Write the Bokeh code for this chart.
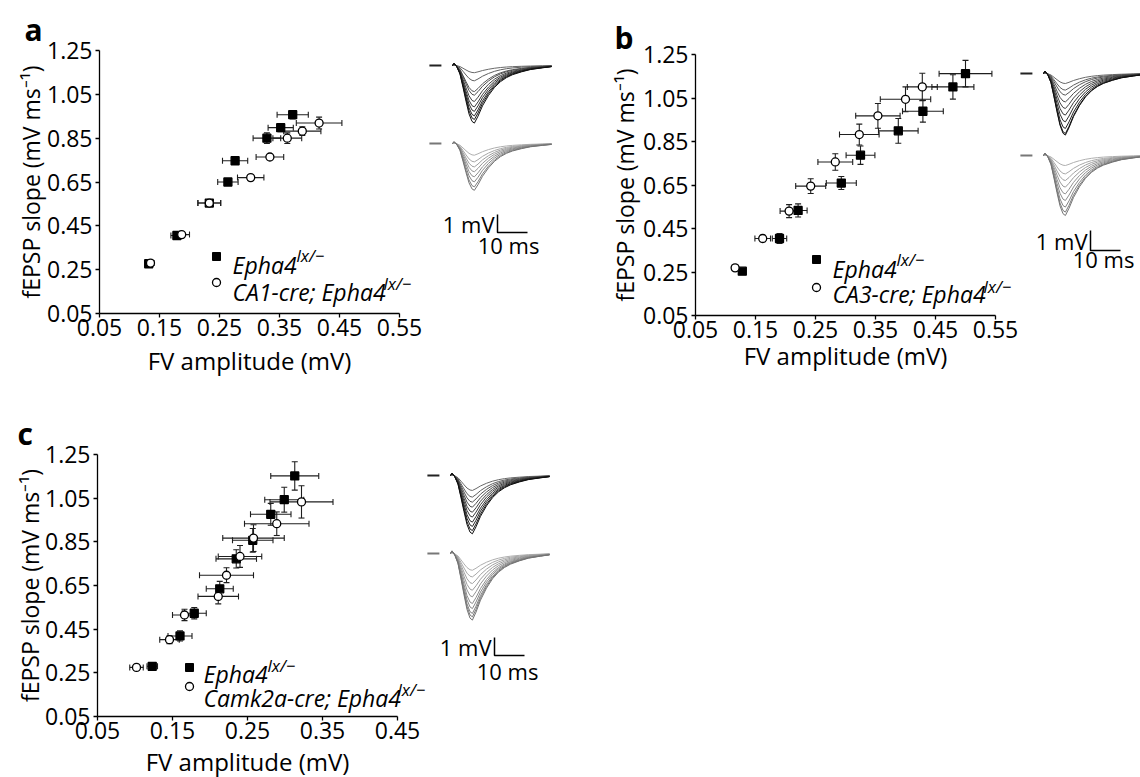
import numpy as np
from bokeh.plotting import figure
from bokeh.models import Range1d, FixedTicker, Whisker, ColumnDataSource, Label, TeeHead
from bokeh.core.properties import value
from bokeh.layouts import row, column
from bokeh.embed import file_html
from bokeh.resources import INLINE

FONT = "Open Sans"

# ---------------- data ----------------
ab_x_ticks = [0.05, 0.15, 0.25, 0.35, 0.45, 0.55]
ab_x_labels = ["0.05", "0.15", "0.25", "0.35", "0.45", "0.55"]
c_x_ticks = [0.05, 0.15, 0.25, 0.35, 0.45]
c_x_labels = ["0.05", "0.15", "0.25", "0.35", "0.45"]
y_ticks = [0.05, 0.25, 0.45, 0.65, 0.85, 1.05, 1.25]
y_labels = ["0.05", "0.25", "0.45", "0.65", "0.85", "1.05", "1.25"]

x_title = "FV amplitude (mV)"
y_title = "fEPSP slope (mV ms\u207b\u00b9)"
ctrl_name = "Epha4"
sup_name = "lx/\u2212"
a_cre_name = "CA1-cre; Epha4"
b_cre_name = "CA3-cre; Epha4"
c_cre_name = "Camk2a-cre; Epha4"

# panel a
a_ctrl_x = [0.132, 0.179, 0.233, 0.264, 0.276, 0.329, 0.352, 0.372]
a_ctrl_y = [0.277, 0.406, 0.554, 0.650, 0.747, 0.850, 0.898, 0.957]
a_ctrl_xerr = [0.006, 0.010, 0.019, 0.017, 0.021, 0.023, 0.021, 0.026]
a_ctrl_yerr = [0.010, 0.010, 0.012, 0.008, 0.014, 0.024, 0.019, 0.019]
a_cre_x = [0.135, 0.187, 0.233, 0.302, 0.334, 0.363, 0.388, 0.416]
a_cre_y = [0.280, 0.410, 0.554, 0.670, 0.764, 0.850, 0.882, 0.919]
a_cre_xerr = [0.006, 0.013, 0.019, 0.022, 0.023, 0.024, 0.031, 0.038]
a_cre_yerr = [0.010, 0.010, 0.010, 0.011, 0.011, 0.024, 0.020, 0.027]

# panel b
b_ctrl_x = [0.128, 0.190, 0.221, 0.293, 0.325, 0.388, 0.429, 0.479, 0.500]
b_ctrl_y = [0.254, 0.404, 0.533, 0.659, 0.787, 0.899, 0.989, 1.101, 1.162]
b_ctrl_xerr = [0.005, 0.012, 0.015, 0.025, 0.024, 0.033, 0.034, 0.035, 0.044]
b_ctrl_yerr = [0.008, 0.023, 0.030, 0.030, 0.042, 0.057, 0.050, 0.056, 0.061]
b_cre_x = [0.116, 0.162, 0.206, 0.242, 0.283, 0.323, 0.354, 0.400, 0.428]
b_cre_y = [0.269, 0.404, 0.530, 0.645, 0.756, 0.882, 0.968, 1.044, 1.101]
b_cre_xerr = [0.005, 0.013, 0.015, 0.025, 0.029, 0.033, 0.037, 0.042, 0.025]
b_cre_yerr = [0.008, 0.015, 0.030, 0.034, 0.038, 0.048, 0.057, 0.057, 0.063]

# panel c
c_ctrl_x = [0.123, 0.160, 0.179, 0.213, 0.235, 0.257, 0.281, 0.299, 0.313]
c_ctrl_y = [0.280, 0.419, 0.523, 0.635, 0.772, 0.857, 0.976, 1.043, 1.152]
c_ctrl_xerr = [0.007, 0.016, 0.016, 0.018, 0.027, 0.027, 0.027, 0.026, 0.032]
c_ctrl_yerr = [0.010, 0.023, 0.026, 0.034, 0.042, 0.054, 0.050, 0.057, 0.065]
c_cre_x = [0.102, 0.146, 0.166, 0.211, 0.222, 0.240, 0.258, 0.289, 0.322]
c_cre_y = [0.275, 0.402, 0.515, 0.600, 0.697, 0.783, 0.867, 0.933, 1.033]
c_cre_xerr = [0.009, 0.013, 0.016, 0.027, 0.036, 0.029, 0.041, 0.043, 0.042]
c_cre_yerr = [0.008, 0.018, 0.026, 0.034, 0.034, 0.050, 0.061, 0.054, 0.074]

# example traces: normalised waveform and peak depths (mV)
trace_t = [0, 0.5, 1.5, 2.5, 3.5, 4.5, 5.5, 6.5, 7.3, 8.5, 10, 12, 14, 16, 18, 20, 23, 26, 30, 33]
trace_v = [0, -0.04, 0.03, 0.15, 0.38, 0.62, 0.84, 0.97, 1.0, 0.88, 0.70, 0.52, 0.38,
           0.28, 0.21, 0.16, 0.11, 0.07, 0.04, 0.02]
stub_t = [-7.7, -3.7]
a_top_depth = [0.40, 0.85, 1.45, 1.65, 2.00, 2.30, 2.55, 2.80, 3.00, 3.20]
a_bot_depth = [0.65, 1.02, 1.30, 1.57, 1.85, 2.13, 2.41, 2.60]
b_top_depth = [0.50, 0.83, 1.08, 1.42, 1.75, 2.08, 2.42, 2.75, 3.00, 3.08]
b_bot_depth = [0.50, 0.92, 1.25, 1.58, 1.92, 2.25, 2.58, 2.83, 3.00]
c_top_depth = [0.83, 1.20, 1.48, 1.76, 2.04, 2.31, 2.59, 2.83, 3.06, 3.24]
c_bot_depth = [0.93, 1.30, 1.67, 2.04, 2.41, 2.78, 3.06, 3.33, 3.52, 3.70]
bar_mv = 1.0
bar_ms = 10.0
bar_mv_text = "1 mV"
bar_ms_text = "10 ms"


# ---------------- helpers ----------------
def gray(level):
    v = int(round(level))
    return "#%02x%02x%02x" % (v, v, v)


def add_traces(p, g, top_depth, bot_depth):
    left, top, w, h = p._box
    pxms, pxmv = g["pxms"], g["pxmv"]
    p.extra_x_ranges["tx"] = Range1d((left - g["t0x"]) / pxms, (left + w - g["t0x"]) / pxms)
    p.extra_y_ranges["ty"] = Range1d(-(top + h - g["base1"]) / pxmv, (g["base1"] - top) / pxmv)
    off = -(g["base2"] - g["base1"]) / pxmv
    kw = dict(x_range_name="tx", y_range_name="ty")

    xs, ys, cols = [], [], []
    n = len(top_depth)
    for i, d in enumerate(top_depth):
        xs.append(trace_t)
        ys.append([-d * v for v in trace_v])
        cols.append(gray(105 - 90 * i / max(n - 1, 1)))
    n = len(bot_depth)
    for i, d in enumerate(bot_depth):
        xs.append(trace_t)
        ys.append([off - d * v for v in trace_v])
        cols.append(gray(175 - 60 * i / max(n - 1, 1)))
    p.multi_line(xs=xs, ys=ys, line_color=cols, line_width=1, **kw)
    p.line(stub_t, [0, 0], line_color="#222222", line_width=2, **kw)
    p.line(stub_t, [off, off], line_color="#777777", line_width=2, **kw)

    bx = (g["bar_x"] - g["t0x"]) / pxms
    by = -(g["bar_y"] - g["base1"]) / pxmv
    p.line([bx, bx, bx + bar_ms], [by + bar_mv, by, by], line_color="black", line_width=1.5, **kw)
    p.text([bx - 3 / pxms], [by + bar_mv / 2], text=[bar_mv_text], text_font=value(FONT),
           text_font_size="22px", text_align="right", text_baseline="middle",
           text_color="black", **kw)
    p.text([bx + bar_ms / 2 - g["ms_shift"] / pxms], [-(g["ms_y"] - g["base1"]) / pxmv],
           text=[bar_ms_text], text_font=value(FONT), text_font_size="22px",
           text_align="center", text_baseline="middle", text_color="black", **kw)


def panel(letter, ctrl, cre, cre_name, xticks, xlabels, g):
    x0, x1 = xticks[0], xticks[-1]
    y0, y1 = y_ticks[0], y_ticks[-1]
    fl, ft, fr, fb = g["axes"]
    left, top, w, h = g["box"]
    xpp = (x1 - x0) / (fr - fl)
    ypp = (y1 - y0) / (fb - ft)
    p = figure(width=w, height=h,
               x_range=Range1d(x0 - (fl - left) * xpp, x0 + (left + w - fl) * xpp),
               y_range=Range1d(y0 - (top + h - fb) * ypp, y0 + (fb - top) * ypp),
               min_border=0, output_backend="svg", toolbar_location=None)
    p._box = g["box"]
    p.outline_line_color = None
    p.grid.visible = False
    p.background_fill_color = "white"
    p.border_fill_color = "white"

    def X(px):
        return x0 + (px - fl) * xpp

    def Y(py):
        return y0 + (fb - py) * ypp

    for ax, ticks, labels, loc, bnd in ((p.xaxis[0], xticks, xlabels, y0, (x0, x1)),
                                        (p.yaxis[0], y_ticks, y_labels, x0, (y0, y1))):
        ax.ticker = FixedTicker(ticks=ticks)
        ax.major_label_overrides = dict(zip(ticks, labels))
        ax.fixed_location = loc
        ax.bounds = bnd
        ax.axis_line_color = "black"
        ax.axis_line_width = 1.3
        ax.major_tick_line_color = "black"
        ax.major_tick_line_width = 1.3
        ax.major_tick_out = 4
        ax.major_tick_in = 0
        ax.minor_tick_line_color = None
        ax.major_label_text_font = FONT
        ax.major_label_text_font_size = "23px"
        ax.major_label_text_color = "black"
    p.xaxis.major_label_standoff = 1
    p.yaxis.major_label_standoff = 3

    for (xs, ys, xe, ye), marker, fill in ((ctrl, "square", "black"), (cre, "circle", "white")):
        src = ColumnDataSource(dict(
            x=xs, y=ys,
            xl=[a - b for a, b in zip(xs, xe)], xu=[a + b for a, b in zip(xs, xe)],
            yl=[a - b for a, b in zip(ys, ye)], yu=[a + b for a, b in zip(ys, ye)]))
        for base, lo, up, dim in (("y", "xl", "xu", "width"), ("x", "yl", "yu", "height")):
            p.add_layout(Whisker(source=src, base=base, lower=lo, upper=up, dimension=dim,
                                 line_color="#1e1e1e", line_width=1.1,
                                 lower_head=TeeHead(size=6, line_color="#1e1e1e", line_width=1.1),
                                 upper_head=TeeHead(size=6, line_color="#1e1e1e", line_width=1.1)))
        p.scatter("x", "y", source=src, marker=marker, size=8, fill_color=fill,
                  line_color="black", line_width=1.3)

    # legend
    L = g["legend"]
    p.scatter([X(L["mx"])], [Y(L["sq"])], marker="square", size=8, fill_color="black",
              line_color="black")
    p.scatter([X(L["mx"])], [Y(L["ci"])], marker="circle", size=8, fill_color="white",
              line_color="black", line_width=1.3)
    for txt, tx, ty, size in ((ctrl_name, L["tx"], L["b1"], "23px"),
                              (cre_name, L["tx"], L["b2"], "23px"),
                              (sup_name, L["s1x"], L["s1y"], "17px"),
                              (sup_name, L["s2x"], L["s2y"], "17px")):
        p.add_layout(Label(x=X(tx), y=Y(ty), text=txt, text_font=FONT, text_font_size=size,
                           text_font_style="italic", text_align="left",
                           text_baseline="alphabetic", text_color="black"))

    # titles and panel letter
    p.add_layout(Label(x=X(g["ylab_x"]), y=(y0 + y1) / 2, text=y_title, angle=np.pi / 2,
                       text_font=FONT, text_font_size="23px", text_align="center",
                       text_baseline="middle", text_color="black"))
    p.add_layout(Label(x=(x0 + x1) / 2, y=Y(g["xlab_y"]), text=x_title,
                       text_font=FONT, text_font_size="24px", text_align="center",
                       text_baseline="middle", text_color="black"))
    p.add_layout(Label(x=X(g["letter"][0]), y=Y(g["letter"][1]), text=letter,
                       text_font=FONT, text_font_size="30px", text_font_style="bold",
                       text_align="left", text_baseline="alphabetic", text_color="black"))
    return p


# ---------------- layout geometry (image pixels) ----------------
geom_a = dict(box=(0, 0, 604, 390), axes=(99, 50, 399, 313),
              legend=dict(mx=216, sq=256, ci=282, tx=232, b1=264, b2=291,
                          s1x=296, s1y=255, s2x=383, s2y=283),
              ylab_x=30, xlab_y=360, letter=(24, 29))
geom_b = dict(box=(604, 0, 536, 390), axes=(695, 54, 995, 315),
              legend=dict(mx=816, sq=259, ci=287, tx=832, b1=268, b2=293,
                          s1x=896, s1y=259, s2x=983, s2y=286),
              ylab_x=624, xlab_y=355, letter=(614, 37))
geom_c = dict(box=(0, 390, 620, 387), axes=(97, 454, 397, 716),
              legend=dict(mx=189, sq=667, ci=686, tx=203, b1=673, b2=697,
                          s1x=267, s1y=665, s2x=397, s2y=689),
              ylab_x=29, xlab_y=761, letter=(17, 433))

tr_a_geom = dict(t0x=452, base1=65, base2=143, pxms=3, pxmv=18,
                 bar_x=497, bar_y=232, ms_y=244, ms_shift=4)
tr_b_geom = dict(t0x=1043, base1=73, base2=155, pxms=3, pxmv=20,
                 bar_x=1090, bar_y=250, ms_y=258, ms_shift=2)
tr_c_geom = dict(t0x=450, base1=475, base2=553, pxms=3, pxmv=18,
                 bar_x=494, bar_y=655, ms_y=670, ms_shift=2)

fa = panel("a", (a_ctrl_x, a_ctrl_y, a_ctrl_xerr, a_ctrl_yerr),
           (a_cre_x, a_cre_y, a_cre_xerr, a_cre_yerr), a_cre_name,
           ab_x_ticks, ab_x_labels, geom_a)
fb = panel("b", (b_ctrl_x, b_ctrl_y, b_ctrl_xerr, b_ctrl_yerr),
           (b_cre_x, b_cre_y, b_cre_xerr, b_cre_yerr), b_cre_name,
           ab_x_ticks, ab_x_labels, geom_b)
fc = panel("c", (c_ctrl_x, c_ctrl_y, c_ctrl_xerr, c_ctrl_yerr),
           (c_cre_x, c_cre_y, c_cre_xerr, c_cre_yerr), c_cre_name,
           c_x_ticks, c_x_labels, geom_c)
add_traces(fa, tr_a_geom, a_top_depth, a_bot_depth)
add_traces(fb, tr_b_geom, b_top_depth, b_bot_depth)
add_traces(fc, tr_c_geom, c_top_depth, c_bot_depth)

layout = column(row(fa, fb), fc)

with open("out.html", "w") as f:
    f.write(file_html(layout, INLINE))
